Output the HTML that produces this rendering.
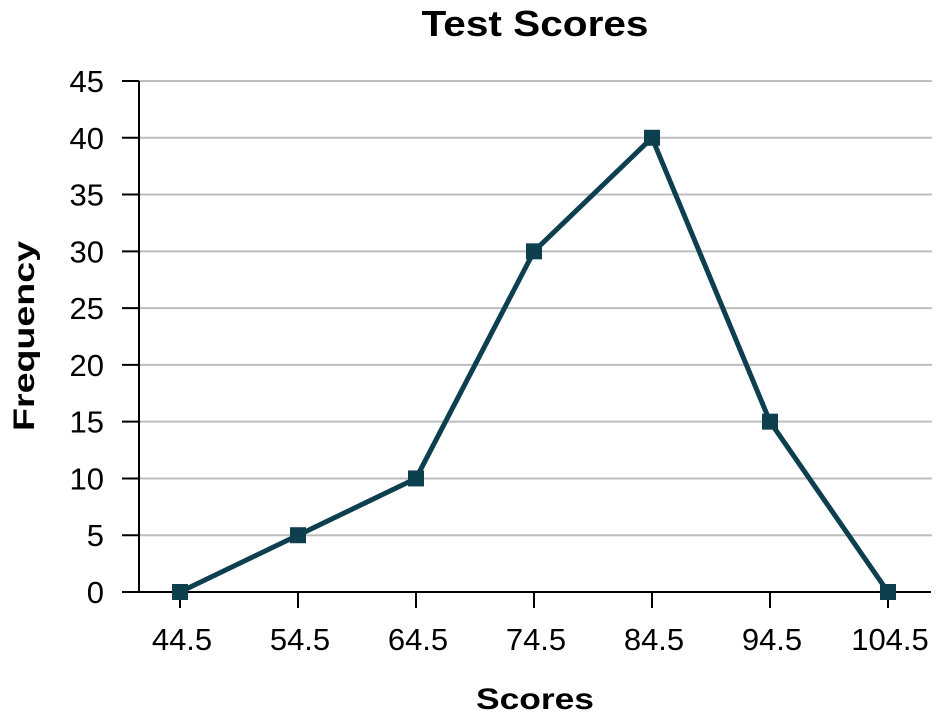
<!DOCTYPE html>
<html><head><meta charset="utf-8"><style>html,body{margin:0;padding:0;background:#fff}svg{display:block}</style></head>
<body>
<svg id="chart" width="937" height="727" xmlns="http://www.w3.org/2000/svg" font-family="Liberation Sans, sans-serif">
<text x="535" y="36" text-anchor="middle" font-size="36" font-weight="bold" textLength="227" lengthAdjust="spacingAndGlyphs">Test Scores</text>
<text transform="translate(34,336) rotate(-90)" text-anchor="middle" font-size="30" font-weight="bold" textLength="190" lengthAdjust="spacingAndGlyphs">Frequency</text>
<text x="535" y="709" text-anchor="middle" font-size="30" font-weight="bold" textLength="118" lengthAdjust="spacingAndGlyphs">Scores</text>
<g id="grid"></g><g id="axes"></g><g id="series"></g>
</svg>
<script>
const categories = ["44.5","54.5","64.5","74.5","84.5","94.5","104.5"];
const frequencies = [0,5,10,30,40,15,0];
const yTicks = [0,5,10,15,20,25,30,35,40,45];
const NS="http://www.w3.org/2000/svg";
const x0=180, xStep=118, yBase=592, yTop=81, yMax=45;
function xPos(i){return x0+i*xStep;}
function yPos(v){return yBase-(v/yMax)*(yBase-yTop);}
function mk(tag,attrs,parent){const e=document.createElementNS(NS,tag);for(const k in attrs)e.setAttribute(k,attrs[k]);parent.appendChild(e);return e;}
const grid=document.getElementById('grid'),axes=document.getElementById('axes'),series=document.getElementById('series');
yTicks.forEach(t=>{
  const y=yPos(t);
  if(t>0){const g=mk('line',{x1:139,x2:932,y1:y,y2:y,stroke:'#bdbdbd','stroke-width':2},grid);
  
  }
  const tk=mk('line',{x1:122,x2:139,y1:y,y2:y,stroke:'#000','stroke-width':2},axes);
  
  
  const lb=mk('text',{x:104,y:y+11,'text-anchor':'end','font-size':31},axes);
  lb.textContent=t;
  
  
});
const ya=mk('line',{x1:139,x2:139,y1:yTop,y2:yBase,stroke:'#000','stroke-width':2},axes);


const xa=mk('line',{x1:122,x2:931,y1:yBase,y2:yBase,stroke:'#000','stroke-width':2},axes);


categories.forEach((c,i)=>{
  const x=xPos(i);
  const tk=mk('line',{x1:x,x2:x,y1:yBase,y2:608,stroke:'#000','stroke-width':2},axes);
  
  
  const lb=mk('text',{x:x+2,y:650,'text-anchor':'middle','font-size':31},axes);
  lb.textContent=c;
  
  
});
const pts=frequencies.map((v,i)=>xPos(i)+','+yPos(v)).join(' ');
const pl=mk('polyline',{points:pts,fill:'none',stroke:'#0d3f4e','stroke-width':5,'stroke-linejoin':'round'},series);


frequencies.forEach((v,i)=>{
  const r=mk('rect',{x:xPos(i)-8,y:yPos(v)-8,width:16,height:16,fill:'#0d3f4e'},series);
  
  
});
</script>
</body></html>
